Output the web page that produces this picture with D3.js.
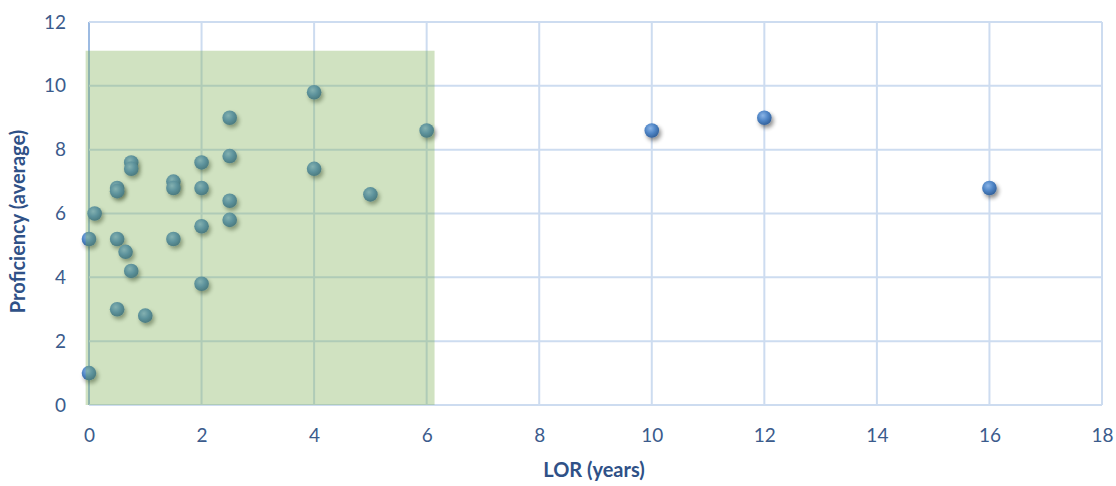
<!DOCTYPE html>
<html>
<head>
<meta charset="utf-8">
<script src="https://cdn.jsdelivr.net/npm/d3@7"></script>
<style>
  html, body { margin: 0; padding: 0; background: #ffffff; }
  svg { display: block; font-family: Lato, "Open Sans", sans-serif; }
</style>
</head>
<body>
<svg id="chart" width="1116" height="486"></svg>
<script>
// Length of residence (years) and average proficiency for each participant
const lor = [0, 0, 0.1, 0.5, 0.5, 0.5, 0.5, 0.65, 0.75, 0.75, 0.75, 1,
             1.5, 1.5, 1.5, 2, 2, 2, 2, 2.5, 2.5, 2.5, 2.5, 4, 4, 5, 6,
             10, 12, 16];
const proficiency = [1.0, 5.2, 6.0, 5.2, 6.8, 6.7, 3.0, 4.8, 4.2, 7.6, 7.4, 2.8,
                     5.2, 7.0, 6.8, 7.6, 6.8, 5.6, 3.8, 9.0, 7.8, 6.4, 5.8, 9.8, 7.4, 6.6, 8.6,
                     8.6, 9.0, 6.8];

// Axis ticks
const xTicks = [0, 2, 4, 6, 8, 10, 12, 14, 16, 18];
const yTicks = [0, 2, 4, 6, 8, 10, 12];

// Shaded band covering the early-residence group
const bandLor = [-0.06, 6.14];
const bandProficiency = [0, 11.1];

const svg = d3.select("#chart");
const W = 1116, H = 486;
const m = { left: 89, right: 14, top: 22, bottom: 81 };

const x = d3.scaleLinear().domain([0, 18]).range([m.left, W - m.right]);
const y = d3.scaleLinear().domain([0, 12]).range([H - m.bottom, m.top]);

const defs = svg.append("defs");
const grad = defs.append("radialGradient")
  .attr("id", "ball").attr("cx", "40%").attr("cy", "35%").attr("r", "65%");
grad.append("stop").attr("offset", "0%").attr("stop-color", "#8ab4e6");
grad.append("stop").attr("offset", "55%").attr("stop-color", "#4f85c6");
grad.append("stop").attr("offset", "100%").attr("stop-color", "#34629c");

const shadow = defs.append("filter").attr("id", "shadow")
  .attr("x", "-60%").attr("y", "-60%").attr("width", "220%").attr("height", "220%");
shadow.append("feGaussianBlur").attr("in", "SourceAlpha").attr("stdDeviation", 2);
shadow.append("feOffset").attr("dx", 1.5).attr("dy", 2.5).attr("result", "off");
shadow.append("feComponentTransfer").append("feFuncA").attr("type", "linear").attr("slope", 0.45);
const merge = shadow.append("feMerge");
merge.append("feMergeNode");
merge.append("feMergeNode").attr("in", "SourceGraphic");

// Grid
const grid = svg.append("g");
grid.selectAll("line.v").data(xTicks).join("line")
  .attr("x1", d => x(d)).attr("x2", d => x(d))
  .attr("y1", y(0)).attr("y2", y(12))
  .attr("stroke", d => d === 0 ? "#9dbbe2" : "#cddcf0")
  .attr("stroke-width", 2);
grid.selectAll("line.h").data(yTicks).join("line")
  .attr("x1", x(0)).attr("x2", x(18))
  .attr("y1", d => y(d)).attr("y2", d => y(d))
  .attr("stroke", "#cddcf0")
  .attr("stroke-width", 2);

// Tick labels from D3 axes
const xAxis = svg.append("g")
  .attr("transform", `translate(0,${y(0)})`)
  .call(d3.axisBottom(x).tickValues(xTicks).tickSize(0).tickPadding(24).tickFormat(d3.format("d")));
const yAxis = svg.append("g")
  .attr("transform", `translate(${x(0)},0)`)
  .call(d3.axisLeft(y).tickValues(yTicks).tickSize(0).tickPadding(23).tickFormat(d3.format("d")));
[xAxis, yAxis].forEach(a => {
  a.select(".domain").remove();
  a.selectAll("text").attr("font-size", 19).attr("fill", "#3b5b8c")
    .attr("font-family", "Lato, 'Open Sans', sans-serif");
});

// Points
svg.append("g").selectAll("circle")
  .data(lor.map((d, i) => [d, proficiency[i]]))
  .join("circle")
  .attr("cx", d => x(d[0])).attr("cy", d => y(d[1]))
  .attr("r", 7.3)
  .attr("fill", "url(#ball)")
  .attr("filter", "url(#shadow)");

// Translucent band over the early group
svg.append("rect")
  .attr("x", x(bandLor[0])).attr("width", x(bandLor[1]) - x(bandLor[0]))
  .attr("y", y(bandProficiency[1])).attr("height", y(bandProficiency[0]) - y(bandProficiency[1]))
  .attr("fill", "#79ac4e").attr("fill-opacity", 0.35);

// Axis titles
svg.append("text")
  .attr("x", 594).attr("y", 477)
  .attr("text-anchor", "middle")
  .attr("font-size", 20).attr("font-weight", 700).attr("fill", "#2f5187")
  .text("LOR (years)");
svg.append("text")
  .attr("transform", `translate(25,${(y(0) + y(12)) / 2 + 8}) rotate(-90)`)
  .attr("text-anchor", "middle")
  .attr("font-size", 20).attr("font-weight", 700).attr("fill", "#2f5187")
  .text("Proficiency (average)");
</script>
</body>
</html>
